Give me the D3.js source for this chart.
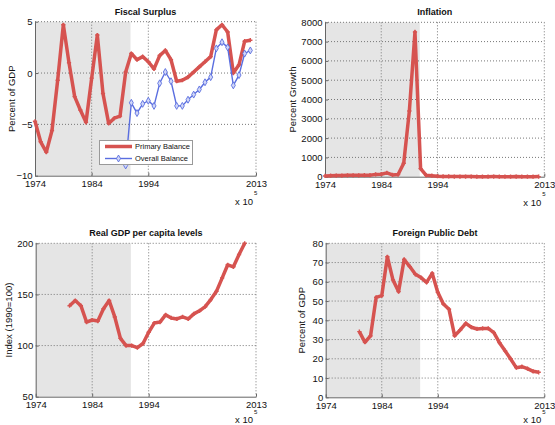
<!doctype html>
<html lang="en">

<head>
  <meta charset="UTF-8">
  <title>Peru macro panels</title>
  <style type="text/css">
    body { margin: 0; background: #fff; }
    text { font-family: "Liberation Sans", Arial, sans-serif; fill: #111; }
  </style>
  <script src="https://cdn.jsdelivr.net/npm/d3@7/dist/d3.min.js"></script>
</head>

<body>
  <svg id="chart" width="555" height="425"></svg>
  <script>
    // ---- data ----
    let fiscalYears = [1974, 1975, 1976, 1977, 1978, 1979, 1980, 1981, 1982, 1983,
      1984, 1985, 1986, 1987, 1988, 1989, 1990, 1991, 1992, 1993,
      1994, 1995, 1996, 1997, 1998, 1999, 2000, 2001, 2002, 2003,
      2004, 2005, 2006, 2007, 2008, 2009, 2010, 2011, 2012]
    let primaryBalance = [-4.7, -6.7, -7.7, -5.6, -0.7, 4.7, 1.0, -2.3, -3.6, -4.8,
      -0.5, 3.7, -2.0, -4.9, -4.4, -4.2, 0.1, 1.9, 1.3, 1.6,
      1.1, 0.4, 1.7, 2.2, 1.3, -0.8, -0.7, -0.4, 0.1, 0.6,
      1.1, 1.6, 4.2, 4.7, 4.0, 0.0, 0.8, 3.1, 3.2]
    let overallYears = [1990, 1991, 1992, 1993, 1994, 1995, 1996, 1997, 1998, 1999,
      2000, 2001, 2002, 2003, 2004, 2005, 2006, 2007, 2008, 2009,
      2010, 2011, 2012]
    let overallBalance = [-9.0, -2.9, -3.9, -3.0, -2.7, -3.2, -1.0, 0.1, -0.8, -3.2,
      -3.2, -2.6, -2.1, -1.6, -0.9, -0.4, 2.4, 3.0, 2.5, -1.2,
      -0.2, 1.9, 2.2]

    let inflationYears = fiscalYears
    let inflation = [40, 50, 60, 60, 70, 70, 70, 80, 80, 120,
      130, 200, 90, 110, 700, 3400, 7500, 420, 70, 50,
      25, 12, 12, 9, 7, 4, 4, 2, 1, 2,
      4, 2, 2, 2, 6, 3, 2, 3, 4]

    let gdpYears = [1980, 1981, 1982, 1983, 1984, 1985, 1986, 1987, 1988, 1989,
      1990, 1991, 1992, 1993, 1994, 1995, 1996, 1997, 1998, 1999,
      2000, 2001, 2002, 2003, 2004, 2005, 2006, 2007, 2008, 2009,
      2010, 2011]
    let gdpIndex = [139, 144, 139, 123, 125, 124, 136, 144, 128, 107,
      100, 100, 98, 102, 113, 122, 123, 130, 127, 126,
      128, 126, 131, 134, 138, 145, 153, 166, 179, 177,
      189, 200]

    let debtYears = [1980, 1981, 1982, 1983, 1984, 1985, 1986, 1987, 1988, 1989,
      1990, 1991, 1992, 1993, 1994, 1995, 1996, 1997, 1998, 1999,
      2000, 2001, 2002, 2003, 2004, 2005, 2006, 2007, 2008, 2009,
      2010, 2011, 2012]
    let foreignDebt = [34.1, 28.6, 31.9, 51.9, 52.8, 73, 61, 54.9, 71.6, 67.9,
      63.9, 62.2, 59.7, 64.4, 54.5, 48.5, 45.7, 32, 35, 38.4,
      36.4, 35.5, 35.8, 35.8, 33.6, 28.4, 24.2, 19.9, 15.4, 15.9,
      14.9, 13.5, 13]

    let xTicks = [1974, 1984, 1994, 2013]
    let xDomain = [1974, 2013]
    let shadeSpan = [1974, 1990.85]

    let red = '#d65350'
    let blue = '#5a6ee0'

    let svg = d3.select('#chart')

    function zip(xs, ys) {
      return xs.map(function (x, i) { return { x: x, y: ys[i] }; });
    }

    function drawPanel(p) {
      let g = svg.append('g')
      let x = d3.scaleLinear().domain(xDomain).range([p.left, p.right])
      let y = d3.scaleLinear().domain(p.yDomain).range([p.bottom, p.top])

      // shaded period
      g.append('rect')
        .attr('x', x(shadeSpan[0]))
        .attr('y', p.top)
        .attr('width', x(shadeSpan[1]) - x(shadeSpan[0]))
        .attr('height', p.bottom - p.top)
        .attr('fill', '#e5e5e5')

      // dotted grid + top/right border
      g.selectAll('.gx').data(xTicks.slice(1)).enter().append('line')
        .attr('x1', d => x(d)).attr('x2', d => x(d))
        .attr('y1', p.top).attr('y2', p.bottom)
        .attr('stroke', '#777').attr('stroke-width', 1).attr('stroke-dasharray', '1,2')
      g.selectAll('.gy').data(p.yTicks.slice(1)).enter().append('line')
        .attr('x1', p.left).attr('x2', p.right)
        .attr('y1', d => y(d)).attr('y2', d => y(d))
        .attr('stroke', '#777').attr('stroke-width', 1).attr('stroke-dasharray', '1,2')

      // axes, ticks inward
      let xa = g.append('g').attr('transform', 'translate(0,' + p.bottom + ')')
        .call(d3.axisBottom(x).tickValues(xTicks).tickFormat(d3.format('d'))
          .tickSizeInner(-3).tickSizeOuter(0).tickPadding(5))
      let ya = g.append('g').attr('transform', 'translate(' + p.left + ',0)')
        .call(d3.axisLeft(y).tickValues(p.yTicks).tickFormat(d3.format('d'))
          .tickSizeInner(-3).tickSizeOuter(0).tickPadding(2.5))
      ;[xa, ya].forEach(function (a) {
        a.select('.domain').attr('stroke', '#666')
        a.selectAll('.tick line').attr('stroke', '#666')
        a.selectAll('text').attr('font-size', '9.5px').attr('font-family', '"Liberation Sans", Arial, sans-serif').attr('fill', '#111')
      })

      // lines
      let line = d3.line().x(d => x(d.x)).y(d => y(d.y))
      p.series.forEach(function (s) {
        let pts = zip(s.xs, s.ys)
        g.append('path').datum(pts)
          .attr('d', line)
          .attr('fill', 'none')
          .attr('stroke', s.color)
          .attr('stroke-width', s.width)
          .attr('stroke-linejoin', 'round')
        if (s.marker === 'diamond') {
          g.selectAll('.mk').data(pts).enter().append('path')
            .attr('d', d3.symbol().type(d3.symbolDiamond).size(14))
            .attr('transform', d => 'translate(' + x(d.x) + ',' + y(d.y) + ')')
            .attr('fill', '#d0d6f7').attr('stroke', s.color).attr('stroke-width', 0.9)
        } else {
          g.selectAll('.mk').data(pts).enter().append('path')
            .attr('d', d3.symbol().type(d3.symbolCross).size(10))
            .attr('transform', d => 'translate(' + x(d.x) + ',' + y(d.y) + ')')
            .attr('fill', s.color)
        }
      })

      // title and y label
      g.append('text')
        .attr('x', (p.left + p.right) / 2).attr('y', p.top - 7)
        .attr('text-anchor', 'middle')
        .attr('font-size', '9px').attr('font-weight', 'bold')
        .text(p.title)
      g.append('text')
        .attr('transform', 'translate(' + p.labelX + ',' + (p.top + p.bottom) / 2 + ') rotate(-90)')
        .attr('text-anchor', 'middle')
        .attr('font-size', '9.5px')
        .text(p.yLabel)

      // MATLAB-style exponent note
      g.append('text')
        .attr('x', p.right - 3).attr('y', p.bottom + p.expOffset)
        .attr('text-anchor', 'end')
        .attr('font-size', '9.5px')
        .text('x 10')
      g.append('text')
        .attr('x', p.right - 2).attr('y', p.bottom + p.supOffset)
        .attr('font-size', '6px')
        .text('5')

      return { g: g, x: x, y: y }
    }

    let fiscal = drawPanel({
      left: 35, right: 256, top: 21.7, bottom: 175.7, expOffset: 29, supOffset: 19,
      yDomain: [-10, 5], yTicks: [-10, -5, 0, 5],
      title: 'Fiscal Surplus', yLabel: 'Percent of GDP', labelX: 15,
      series: [
        { xs: fiscalYears, ys: primaryBalance, color: red, width: 3.5, marker: 'cross' },
        { xs: overallYears, ys: overallBalance, color: blue, width: 1.4, marker: 'diamond' }
      ]
    })

    drawPanel({
      left: 325, right: 544.3, top: 22.3, bottom: 176.7, expOffset: 29, supOffset: 19,
      yDomain: [0, 8000], yTicks: [0, 1000, 2000, 3000, 4000, 5000, 6000, 7000, 8000],
      title: 'Inflation', yLabel: 'Percent Growth', labelX: 296,
      series: [
        { xs: inflationYears, ys: inflation, color: red, width: 3.5, marker: 'cross' }
      ]
    })

    drawPanel({
      left: 35.7, right: 256, top: 243.3, bottom: 396.7, expOffset: 26, supOffset: 17.2,
      yDomain: [50, 200], yTicks: [50, 100, 150, 200],
      title: 'Real GDP per capita levels', yLabel: 'Index (1990=100)', labelX: 12,
      series: [
        { xs: gdpYears, ys: gdpIndex, color: red, width: 3.5, marker: 'cross' }
      ]
    })

    drawPanel({
      left: 325.7, right: 544.3, top: 243.3, bottom: 397.3, expOffset: 25.5, supOffset: 17,
      yDomain: [0, 80], yTicks: [0, 10, 20, 30, 40, 50, 60, 70, 80],
      title: 'Foreign Public Debt', yLabel: 'Percent of GDP', labelX: 305,
      series: [
        { xs: debtYears, ys: foreignDebt, color: red, width: 3.5, marker: 'cross' }
      ]
    })

    // legend for the fiscal panel
    let legend = fiscal.g.append('g')
    legend.append('rect')
      .attr('x', 99.5).attr('y', 140.5).attr('width', 93).attr('height', 24)
      .attr('fill', '#fff').attr('stroke', '#999').attr('stroke-width', 1)
    let legendItems = [
      { name: 'Primary Balance', color: red, width: 3.5, y: 146.5 },
      { name: 'Overall Balance', color: blue, width: 1.4, y: 158.5 }
    ]
    legendItems.forEach(function (d) {
      legend.append('line')
        .attr('x1', 105).attr('x2', 132).attr('y1', d.y).attr('y2', d.y)
        .attr('stroke', d.color).attr('stroke-width', d.width)
      legend.append('text')
        .attr('x', 135).attr('y', d.y + 2.7)
        .attr('font-size', '7.5px')
        .text(d.name)
    })
    legend.append('path')
      .attr('d', d3.symbol().type(d3.symbolDiamond).size(14))
      .attr('transform', 'translate(118.5,158.5)')
      .attr('fill', '#d0d6f7').attr('stroke', blue).attr('stroke-width', 0.9)
  </script>
</body>

</html>
